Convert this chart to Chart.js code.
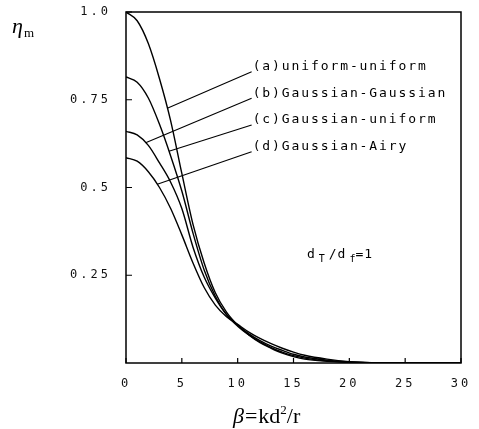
<!DOCTYPE html>
<html>
<head>
<meta charset="utf-8">
<script src="https://cdn.jsdelivr.net/npm/chart.js@4.4.0/dist/chart.umd.min.js"></script>
<style>
  html, body { margin: 0; padding: 0; background: #fff; }
  #wrap { width: 479px; height: 429px; }
</style>
</head>
<body>
<div id="wrap"><canvas id="c" width="479" height="429"></canvas></div>
<script>
// beta = kd^2/r
const beta = [0, 1, 2, 3, 4, 5, 6, 7, 8, 9, 10, 11, 12, 13, 14, 15, 16, 18, 20, 22, 25, 30];
const uniformUniform   = [1.0, 0.975, 0.91, 0.81, 0.69, 0.54, 0.395, 0.285, 0.2, 0.145, 0.108, 0.08, 0.058, 0.042, 0.028, 0.018, 0.011, 0.005, 0.002, 0.001, 0, 0];
const curve2 = [0.815, 0.8, 0.755, 0.68, 0.59, 0.49, 0.37, 0.265, 0.19, 0.138, 0.105, 0.08, 0.06, 0.044, 0.031, 0.021, 0.014, 0.006, 0.002, 0.001, 0, 0];
const curve3 = [0.66, 0.65, 0.62, 0.57, 0.515, 0.44, 0.33, 0.245, 0.185, 0.138, 0.108, 0.083, 0.064, 0.048, 0.036, 0.025, 0.017, 0.008, 0.003, 0.001, 0, 0];
const gaussianAiry     = [0.585, 0.575, 0.545, 0.5, 0.44, 0.365, 0.285, 0.215, 0.165, 0.132, 0.11, 0.088, 0.07, 0.055, 0.042, 0.031, 0.022, 0.011, 0.004, 0.001, 0, 0];

const xTicks = [0, 5, 10, 15, 20, 25, 30];
const yTicks = [0.25, 0.5, 0.75, 1.0];
const yTickLabels = ['0.25', '0.5', '0.75', '1.0'];

// leader labels: text, which curve the line touches, and at which beta
const leaderLabels = ['(a)uniform-uniform', '(b)Gaussian-Gaussian', '(c)Gaussian-uniform', '(d)Gaussian-Airy'];
const leaderCurve = [0, 2, 1, 3];
const leaderAt = [3.7, 1.76, 3.85, 2.8];

const series = [uniformUniform, curve2, curve3, gaussianAiry];

const mono = '"DejaVu Sans Mono", monospace';
const serif = '"Liberation Serif", "DejaVu Serif", serif';

function curveAt(data, x) {
  for (let i = 0; i < beta.length - 1; i++) {
    if (x >= beta[i] && x <= beta[i + 1]) {
      const t = (x - beta[i]) / (beta[i + 1] - beta[i]);
      return data[i] + t * (data[i + 1] - data[i]);
    }
  }
  return data[data.length - 1];
}

const decor = {
  id: 'decor',
  beforeDraw(chart) {
    chart.ctx.letterSpacing = '3px';
  },
  afterDraw(chart) {
    const ctx = chart.ctx;
    const xs = chart.scales.x, ys = chart.scales.y;
    const area = chart.chartArea;
    ctx.save();
    ctx.letterSpacing = '0px';
    ctx.strokeStyle = '#000';
    ctx.fillStyle = '#000';

    // frame
    ctx.lineWidth = 1.5;
    ctx.strokeRect(area.left, area.top, area.right - area.left, area.bottom - area.top);

    // inward ticks
    ctx.lineWidth = 1.2;
    ctx.beginPath();
    xTicks.forEach(v => {
      const px = xs.getPixelForValue(v);
      ctx.moveTo(px, area.bottom);
      ctx.lineTo(px, area.bottom - 5);
    });
    yTicks.forEach(v => {
      const py = ys.getPixelForValue(v);
      ctx.moveTo(area.left, py);
      ctx.lineTo(area.left + 6, py);
    });
    ctx.stroke();

    // leader lines and labels
    const labelX = 11.25;
    const labelY = [0.830, 0.754, 0.678, 0.602];
    ctx.lineWidth = 1.1;
    ctx.font = '13px ' + mono;
    ctx.letterSpacing = '1.9px';
    ctx.textBaseline = 'middle';
    ctx.textAlign = 'left';
    leaderLabels.forEach((txt, i) => {
      const x0 = xs.getPixelForValue(leaderAt[i]);
      const y0 = ys.getPixelForValue(curveAt(series[leaderCurve[i]], leaderAt[i]));
      const x1 = xs.getPixelForValue(labelX);
      const y1 = ys.getPixelForValue(labelY[i]);
      ctx.beginPath();
      ctx.moveTo(x0, y0);
      ctx.lineTo(x1, y1);
      ctx.stroke();
      ctx.fillText(txt, x1 + 1, y1 - 5);
    });

    // d_T/d_f = 1
    let tx = xs.getPixelForValue(16.2);
    const ty = ys.getPixelForValue(0.3);
    ctx.letterSpacing = '1px';
    ctx.textBaseline = 'alphabetic';
    const parts = [['d', 13, 0, 3], ['T', 10, 4, 3], ['/d', 13, 0, 3], ['f', 10, 4, -1], ['=1', 13, 0, 0]];
    parts.forEach(([s, size, dy, gap]) => {
      ctx.font = size + 'px ' + mono;
      ctx.fillText(s, tx, ty + dy);
      tx += ctx.measureText(s).width + gap;
    });
    ctx.letterSpacing = '0px';

    // y axis title: eta_m
    ctx.font = 'italic 22px ' + serif;
    ctx.fillText('\u03b7', 12, 33);
    ctx.font = '13px ' + serif;
    ctx.fillText('m', 24, 37);

    // x axis title: beta = kd^2/r
    let bx = 233;
    const by = 423;
    ctx.font = 'italic 22px ' + serif;
    ctx.fillText('\u03b2', bx, by);
    bx += ctx.measureText('\u03b2').width + 1;
    ctx.font = '22px ' + serif;
    ctx.fillText('=', bx, by);
    bx += ctx.measureText('=').width + 1;
    ctx.fillText('kd', bx, by);
    bx += ctx.measureText('kd').width;
    ctx.font = '13px ' + serif;
    ctx.fillText('2', bx, by - 9);
    bx += ctx.measureText('2').width;
    ctx.font = '22px ' + serif;
    ctx.fillText('/r', bx, by);
    ctx.restore();
  }
};

const lineStyle = {
  borderColor: '#000',
  borderWidth: 1.4,
  pointRadius: 0,
  fill: false,
  cubicInterpolationMode: 'monotone'
};

new Chart(document.getElementById('c'), {
  type: 'line',
  data: {
    datasets: series.map((d, i) => Object.assign({
      label: leaderLabels[leaderCurve.indexOf(i)],
      data: beta.map((b, j) => ({ x: b, y: d[j] }))
    }, lineStyle))
  },
  options: {
    responsive: false,
    animation: false,
    events: [],
    layout: { padding: { left: 0, right: 18, top: 12, bottom: 0 } },
    plugins: {
      legend: { display: false },
      tooltip: { enabled: false },
      title: { display: false }
    },
    scales: {
      x: {
        type: 'linear',
        min: 0,
        max: 30,
        afterBuildTicks: s => { s.ticks = xTicks.map(v => ({ value: v })); },
        afterFit: s => { s.height = 66; s.paddingLeft = 0; s.paddingRight = 0; },
        grid: { display: false, drawTicks: false },
        border: { display: false },
        ticks: {
          padding: 14,
          color: '#111',
          maxRotation: 0,
          font: { family: mono, size: 12 }
        }
      },
      y: {
        type: 'linear',
        min: 0,
        max: 1.0,
        afterBuildTicks: s => { s.ticks = yTicks.map(v => ({ value: v })); },
        afterFit: s => { s.width = 126; s.paddingTop = 0; s.paddingBottom = 0; },
        grid: { display: false, drawTicks: false },
        border: { display: false },
        ticks: {
          padding: 15,
          color: '#111',
          font: { family: mono, size: 12 },
          callback: v => yTickLabels[yTicks.indexOf(v)]
        }
      }
    }
  },
  plugins: [decor]
});
</script>
</body>
</html>
